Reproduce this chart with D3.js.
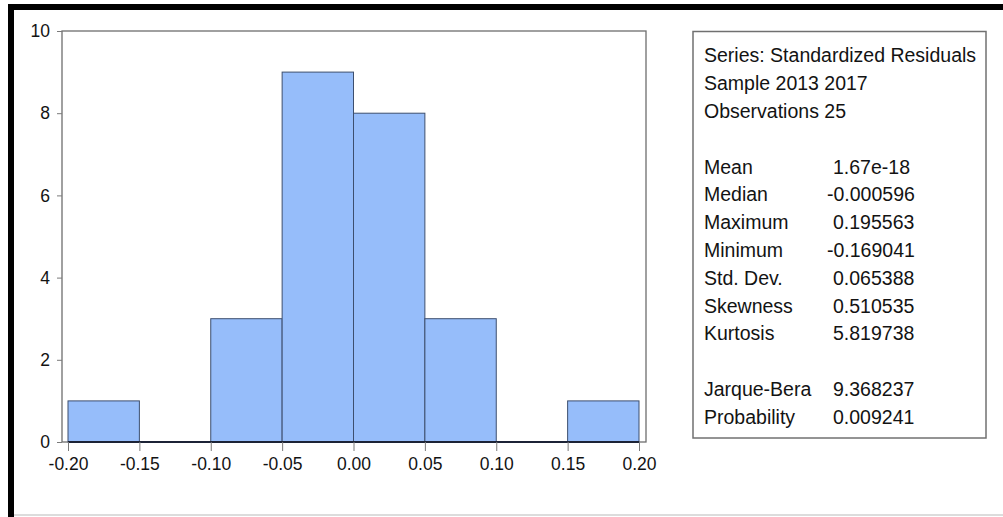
<!DOCTYPE html>
<html>
<head>
<meta charset="utf-8">
<script src="https://cdn.jsdelivr.net/npm/d3@7"></script>
<style>
  html, body { margin: 0; padding: 0; background: #fff; }
  svg { display: block; }
  text { font-family: "Liberation Sans", Arial, sans-serif; fill: #131313; }
</style>
</head>
<body>
<svg id="chart" width="1003" height="517"></svg>
<script>
// ---- data ----
const binStarts = [-0.20, -0.15, -0.10, -0.05, 0.00, 0.05, 0.10, 0.15];
const binWidth = 0.05;
const counts = [1, 0, 3, 9, 8, 3, 0, 1];
const yTicks = [0, 2, 4, 6, 8, 10];
const xTicks = [-0.20, -0.15, -0.10, -0.05, 0.00, 0.05, 0.10, 0.15, 0.20];
const headerLines = ["Series: Standardized Residuals", "Sample 2013 2017", "Observations 25"];
const statLabels = ["Mean", "Median", "Maximum", "Minimum", "Std. Dev.", "Skewness", "Kurtosis", "", "Jarque-Bera", "Probability"];
const statValues = ["1.67e-18", "-0.000596", "0.195563", "-0.169041", "0.065388", "0.510535", "5.819738", "", "9.368237", "0.009241"];

// ---- drawing ----
const svg = d3.select("#chart");

// outer frame (black border left/top, light line bottom)
svg.append("rect").attr("x", 8).attr("y", 4).attr("width", 995).attr("height", 6).attr("fill", "#000");
svg.append("rect").attr("x", 8).attr("y", 4).attr("width", 6).attr("height", 513).attr("fill", "#000");
svg.append("rect").attr("x", 14).attr("y", 514).attr("width", 989).attr("height", 2).attr("fill", "#dcdcdc");

const x = d3.scaleLinear().domain([-0.2, 0.2]).range([68, 639]);
const y = d3.scaleLinear().domain([0, 10]).range([442, 31]);

const plotL = 62, plotR = 646, plotT = 31, plotB = 442;

// plot frame
svg.append("rect")
  .attr("x", plotL).attr("y", plotT)
  .attr("width", plotR - plotL).attr("height", plotB - plotT)
  .attr("fill", "none").attr("stroke", "#6e6e6e").attr("stroke-width", 1.3);

// bars
svg.append("g").selectAll("rect")
  .data(binStarts.map((s, i) => ({ s, c: counts[i] })).filter(d => d.c > 0))
  .join("rect")
  .attr("x", d => x(d.s))
  .attr("y", d => y(d.c))
  .attr("width", d => x(d.s + binWidth) - x(d.s))
  .attr("height", d => y(0) - y(d.c))
  .attr("fill", "#96bdfa")
  .attr("stroke", "#3d4f6e")
  .attr("stroke-width", 1);

// dark base line under bars
svg.append("line")
  .attr("x1", x(-0.2)).attr("x2", x(0.2))
  .attr("y1", y(0)).attr("y2", y(0))
  .attr("stroke", "#1c2336").attr("stroke-width", 2);

// y axis
const yAxis = svg.append("g")
  .attr("transform", `translate(${plotL},0)`)
  .call(d3.axisLeft(y).tickValues(yTicks).tickSize(5).tickPadding(7).tickFormat(d3.format("d")));
yAxis.select(".domain").remove();
yAxis.selectAll(".tick line").attr("stroke", "#7a7a7a");
yAxis.selectAll(".tick text").attr("font-size", 17.5).attr("font-family", "Liberation Sans, Arial, sans-serif").attr("fill", "#131313");

// x axis
const xAxis = svg.append("g")
  .attr("transform", `translate(0,${plotB})`)
  .call(d3.axisBottom(x).tickValues(xTicks).tickSize(9).tickPadding(7).tickFormat(d3.format(".2f")));
xAxis.select(".domain").remove();
xAxis.selectAll(".tick line").attr("stroke", "#7a7a7a");
xAxis.selectAll(".tick text").attr("font-size", 17.5).attr("font-family", "Liberation Sans, Arial, sans-serif").attr("fill", "#131313")
  .text(d => d3.format(".2f")(d).replace("−", "-"));

// stats box
const box = { x: 693, y: 31.5, w: 293, h: 406.5 };
svg.append("rect")
  .attr("x", box.x).attr("y", box.y).attr("width", box.w).attr("height", box.h)
  .attr("fill", "#fff").attr("stroke", "#707070").attr("stroke-width", 1.5);

const lineH = 27.8, firstBase = 62.4, labelX = 704, valX = 833, minusW = 6;
const g = svg.append("g").attr("font-size", 19.5);
g.selectAll("text.h").data(headerLines).join("text").attr("class", "h")
  .attr("x", labelX).attr("y", (d, i) => firstBase + i * lineH).text(d => d);
g.selectAll("text.l").data(statLabels).join("text").attr("class", "l")
  .attr("x", labelX).attr("y", (d, i) => firstBase + (i + 4) * lineH).text(d => d);
g.selectAll("text.v").data(statValues).join("text").attr("class", "v")
  .attr("x", d => d.startsWith("-") ? valX - minusW : valX)
  .attr("y", (d, i) => firstBase + (i + 4) * lineH).text(d => d);
</script>
</body>
</html>
